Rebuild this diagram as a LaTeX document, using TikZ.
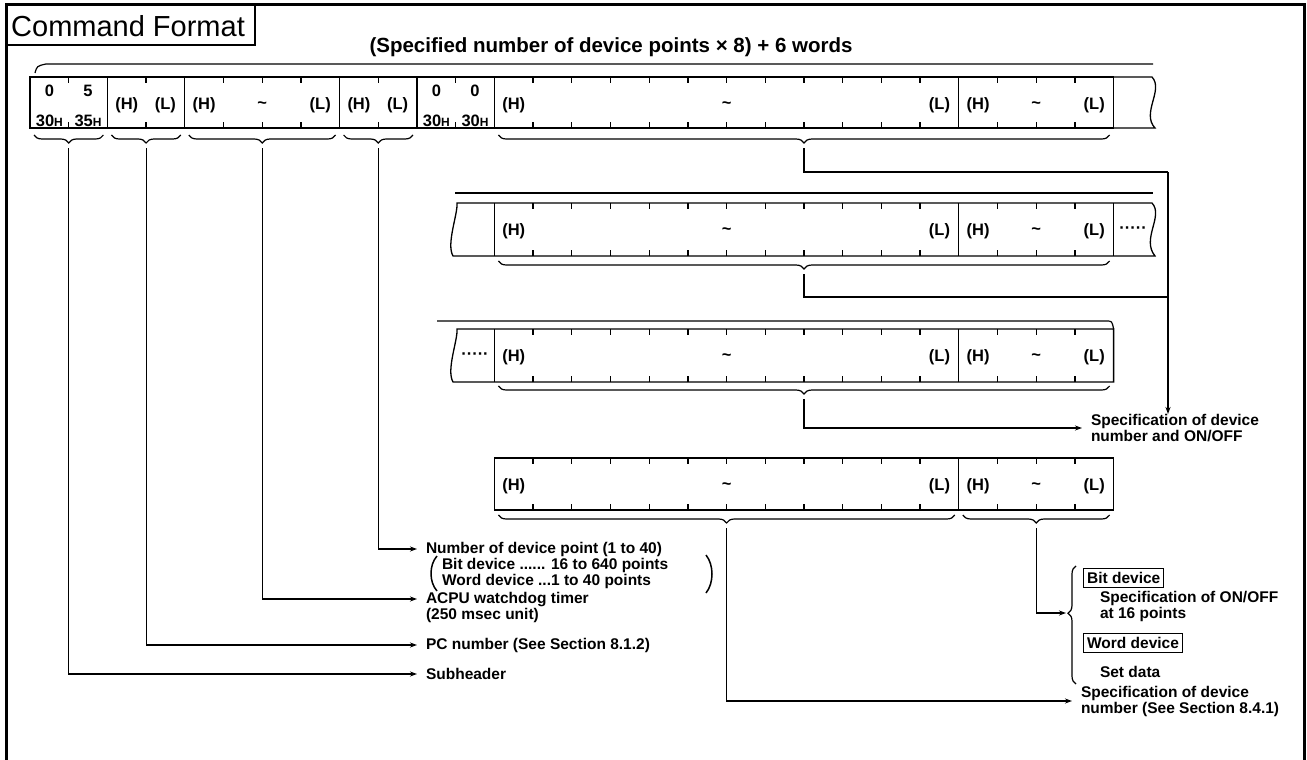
\documentclass[tikz,border=0pt]{standalone}
\usepackage{fontspec}
\setmainfont{Liberation Sans}
\usetikzlibrary{arrows.meta,decorations.pathreplacing}

\newcommand\unitw{38.7}
\newcommand\lblfont{\bfseries\fontsize{15.5}{16}\selectfont}
\newcommand\cellfont{\bfseries\fontsize{16.5}{18}\selectfont}
\newcommand\smH{{\fontsize{12}{12}\selectfont H}}
\newcommand\tld{\textasciitilde}
% ticks on top and bottom edge of a row
\newcommand\tickrow[3]{%
  \foreach \k in {#3} {
    \draw[frm] ({30+\unitw*\k},#1) -- ++(0,6);
    \draw[frm] ({30+\unitw*\k},#2) -- ++(0,-6);
  }}
% texts of the two long cells
\newcommand\hlrow[2]{%
  \foreach \k/\t [count=\i] in {12.5/(H),18/\tld,23.5/(L),24.5/(H),26/\tld,27.5/(L)}
    \node[txt] (#1\i) at ({30+\unitw*\k},#2) {\t};}
% brace under units #1..#2
\newcommand\ubrace[3]{\draw[brc] ({30+\unitw*#1+4},#3) -- ({30+\unitw*#2-4},#3);}

\tikzset{
  lbl/.style={font=\lblfont, anchor=west, inner sep=0pt, outer xsep=9pt, align=left},
  txt/.style={font=\cellfont, inner sep=0pt},
  tag/.style={draw, line width=1.2pt, font=\lblfont, inner sep=3.5pt, anchor=west},
  frm/.style={line width=1.3pt},
  lnk/.style={line width=1.2pt},
  arr/.style={line width=1.2pt, -{Stealth[length=7pt,width=5pt]}},
  brc/.style={line width=1.2pt, decorate, decoration={brace, mirror, amplitude=8pt}},
}

\begin{document}
\begin{tikzpicture}[x=1pt,y=-1pt]
\useasboundingbox (0,0) rectangle (1307,760);
% frame and title
\draw[line width=3pt] (6,760) -- (6,5) -- (1304,5) -- (1304,760);
\draw[line width=2pt] (6,5) rectangle (255,45);
\node[font=\fontsize{29}{30}\selectfont, anchor=west, inner sep=0pt] (title) at (11,26) {Command Format};
\node[font=\bfseries\fontsize{20.5}{22}\selectfont, inner sep=0pt] (words) at (611,47) {(Specified number of device points × 8) + 6 words};
\draw[lnk] (35,73) .. controls (37,66) .. (46,64) -- (1153,64);

% row 1
\draw[frm] (30,77) rectangle (1113.6,128);
\draw[frm] (1113.6,77) -- (1152,77) .. controls (1164,90) and (1141,113) .. (1155,128) -- (1113.6,128);
\foreach \k in {2,4,8,10,12,24} \draw[frm] ({30+\unitw*\k},77) -- ({30+\unitw*\k},128);
\tickrow{77}{128}{1,3,5,6,7,9,11,13,14,...,23,25,26,27}
\foreach \k/\t [count=\i] in {0.5/0,1.5/5,10.5/0,11.5/0}
  \node[txt] (dg\i) at ({30+\unitw*\k},91) {\t};
\foreach \k/\t [count=\i] in {0.5/30,1.5/35,10.5/30,11.5/30}
  \node[txt] (hx\i) at ({30+\unitw*\k},121) {\t\smH};
\foreach \k/\t [count=\i] in {2.5/(H),3.5/(L),4.5/(H),6/\tld,7.5/(L),8.5/(H),9.5/(L)}
  \node[txt] (ra\i) at ({30+\unitw*\k},105) {\t};
\hlrow{rh}{105}
\ubrace{0}{2}{135} \ubrace{2}{4}{135} \ubrace{4}{8}{135} \ubrace{8}{10}{135} \ubrace{12}{28}{135}

% row 2
\draw[lnk] (455,193) -- (1153,193);
\draw[frm] (457,203) -- (1152,203) .. controls (1164,216) and (1141,239) .. (1155,256) -- (453,256) .. controls (446,244) and (458,214) .. cycle;
\foreach \k in {12,24,28} \draw[frm] ({30+\unitw*\k},203) -- ({30+\unitw*\k},256);
\tickrow{203}{256}{13,14,...,23,25,26,27}
\hlrow{rb}{231}
\node[txt] (dotsb) at (1133,230) {·····};
\ubrace{12}{28}{261}

% row 3
\draw[lnk] (437,321) -- (1106,321) .. controls (1112,321) .. (1113.6,329);
\draw[frm] (457,329) -- (1113.6,329) -- (1113.6,382) -- (453,382) .. controls (446,370) and (458,340) .. cycle;
\foreach \k in {12,24} \draw[frm] ({30+\unitw*\k},329) -- ({30+\unitw*\k},382);
\tickrow{329}{382}{13,14,...,23,25,26,27}
\hlrow{rc}{357}
\node[txt] (dotsc) at (475,356) {·····};
\ubrace{12}{28}{386}

% row 4
\draw[frm] ({30+\unitw*12},458) rectangle (1113.6,510);
\draw[frm] ({30+\unitw*24},458) -- ({30+\unitw*24},510);
\tickrow{458}{510}{13,14,...,23,25,26,27}
\hlrow{rd}{486}
\ubrace{12}{24}{515} \ubrace{24}{28}{515}

% brace tips
\coordinate (sh) at ({30+\unitw*1},148);
\coordinate (pc) at ({30+\unitw*3},148);
\coordinate (wd) at ({30+\unitw*6},148);
\coordinate (np) at ({30+\unitw*9},148);
\coordinate (d1) at ({30+\unitw*20},148);
\coordinate (d2) at ({30+\unitw*20},274);
\coordinate (d3) at ({30+\unitw*20},399);
\coordinate (d4) at ({30+\unitw*18},528);
\coordinate (d5) at ({30+\unitw*26},528);
\coordinate (rj) at (1168,172);
\coordinate (rk) at (1168,297);

% left labels
\node[lbl] (numpt) at (417,549) {Number of device point (1 to 40)};
\node[lbl, outer xsep=0pt] (bitword) at (442,573) {Bit device ...... 16 to 640 points\\Word device ...1 to 40 points};
\draw[line width=1.5pt] (437,556) .. controls (429,565) and (429,582) .. (437,591);
\draw[line width=1.5pt] (706,555) .. controls (714,565) and (714,583) .. (706,593);
\node[lbl] (acpu) at (417,607) {ACPU watchdog timer\\(250 msec unit)};
\node[lbl] (pcno) at (417,645) {PC number (See Section 8.1.2)};
\node[lbl] (subh) at (417,674) {Subheader};
\draw[arr] (sh) |- (subh.west);
\draw[arr] (pc) |- (pcno.west);
\draw[arr] (wd) |- ([yshift=8pt]acpu.west);
\draw[arr] (np) |- (numpt.west);

% right labels
\node[lbl] (devonoff) at (1082,428) {Specification of device\\number and ON/OFF};
\draw[lnk] (d1) |- (rj);
\draw[arr] (rj) -- (rj |- devonoff.north);
\draw[lnk] (d2) |- (rk);
\draw[arr] (d3) |- (devonoff.west);
\node[lbl] (devno) at (1072,701) {Specification of device\\number (See Section 8.4.1)};
\draw[arr] (d4) |- (devno.west);

\draw[line width=1.2pt, decorate, decoration={brace, amplitude=8pt, aspect=0.6}] (1076,684) -- (1076,566);
\coordinate (bt) at (1066,613);
\draw[arr] (d5) |- (bt);
\node[tag] (bitdev) at (1083,578) {Bit device};
\node[lbl, outer xsep=0pt] (onoff) at (1100,606) {Specification of ON/OFF\\at 16 points};
\node[tag] (worddev) at (1083,643) {Word device};
\node[lbl, outer xsep=0pt] (setdata) at (1100,672) {Set data};
\end{tikzpicture}
\end{document}
